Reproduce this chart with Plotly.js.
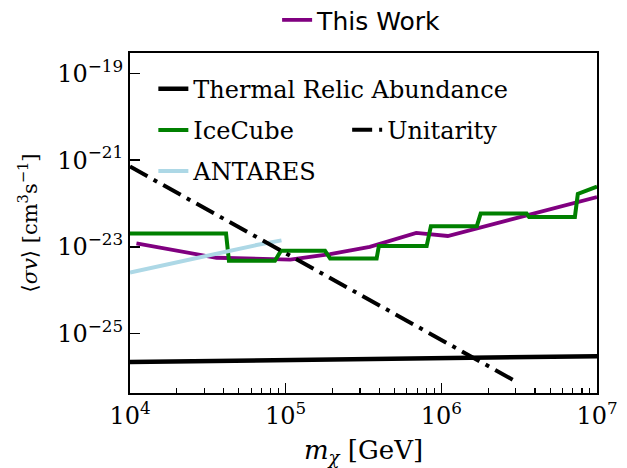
<!DOCTYPE html>
<html>
<head>
<meta charset="utf-8">
<script src="https://cdn.plot.ly/plotly-3.0.1.min.js"></script>
<style>html,body{margin:0;padding:0;background:#fff;}#chart{width:627px;height:468px;}</style>
</head>
<body>
<div id="chart"></div>
<script>
// ---- data ----
const thisWorkMass = [1.1e4, 3.6e4, 1.07e5, 1.93e5, 3.47e5, 6.9e5, 1.1e6, 1e7];
const thisWorkSigmaV = [1.2e-23, 5.6e-24, 5.1e-24, 6.8e-24, 1.0e-23, 2.1e-23, 1.78e-23, 1.4e-22];

const iceCubeMass = [1e4, 4.14e4, 4.32e4, 8.53e4, 9.33e4, 1.79e5, 1.93e5, 3.84e5, 3.97e5,
                     8.05e5, 8.57e5, 1.69e6, 1.79e6, 3.53e6, 3.66e6, 7.21e6, 7.53e6, 1e7];
const iceCubeSigmaV = [2.04e-23, 2.04e-23, 4.8e-24, 4.8e-24, 8.1e-24, 8.1e-24, 5.4e-24, 5.4e-24, 1.05e-23,
                       1.05e-23, 3.0e-23, 3.0e-23, 5.9e-23, 5.9e-23, 4.9e-23, 4.9e-23, 1.66e-22, 2.45e-22];

const antaresMass = [1e4, 2e4, 3.5e4, 5.35e4, 6.0e4, 6.5e4, 9.4e4];
const antaresSigmaV = [2.57e-24, 4.4e-24, 6.8e-24, 9.5e-24, 1.08e-23, 1.1e-23, 1.41e-23];

const thermalMass = [1e4, 1e5, 1e6, 1e7];
const thermalSigmaV = [2.2e-26, 2.4e-26, 2.7e-26, 3.0e-26];

const unitarityMass = [1e4, 2.9e6];
const unitaritySigmaV = [7.1e-22, 8.5e-27];

const xTickVals = [1e4, 1e5, 1e6, 1e7];
const xTickText = ['10<sup>4</sup>', '10<sup>5</sup>', '10<sup>6</sup>', '10<sup>7</sup>'];
const yTickVals = [1e-25, 1e-23, 1e-21, 1e-19];
const yTickText = ['10<sup>−25</sup>', '10<sup>−23</sup>', '10<sup>−21</sup>', '10<sup>−19</sup>'];

// ---- chart ----
const serif = 'DejaVu Serif, serif';
const minorVals = [];
for (let e = 4; e < 7; e++) for (let d = 2; d <= 9; d++) minorVals.push(d * Math.pow(10, e));

const traces = [
  {x: thisWorkMass, y: thisWorkSigmaV, name: 'This Work', mode: 'lines',
   line: {color: 'purple', width: 3.8}, legend: 'legend'},
  {x: thermalMass, y: thermalSigmaV, name: 'Thermal Relic Abundance', mode: 'lines',
   line: {color: 'black', width: 4.5}, legend: 'legend2', legendgroup: 'a'},
  {x: iceCubeMass, y: iceCubeSigmaV, name: 'IceCube', mode: 'lines',
   line: {color: 'green', width: 4}, legend: 'legend2', legendgroup: 'b'},
  {x: antaresMass, y: antaresSigmaV, name: 'ANTARES', mode: 'lines',
   line: {color: 'lightblue', width: 4}, legend: 'legend2', legendgroup: 'c'},
  {x: unitarityMass, y: unitaritySigmaV, name: 'Unitarity', mode: 'lines',
   line: {color: 'black', width: 4, dash: '20px,7px,4px,7px'}, legend: 'legend3'}
];

const layout = {
  width: 627, height: 468,
  margin: {l: 130, r: 30, t: 53, b: 75, autoexpand: false},
  paper_bgcolor: '#fff', plot_bgcolor: '#fff',
  font: {family: serif, color: '#000'},
  xaxis: {
    type: 'log', range: [4, 7],
    tickmode: 'array', tickvals: xTickVals, ticktext: xTickText,
    ticks: 'inside', ticklen: 10, tickwidth: 1.5, tickcolor: '#000',
    minor: {tickmode: 'array', tickvals: minorVals, ticks: 'inside', ticklen: 5, tickwidth: 1.2, tickcolor: '#000'},
    showgrid: false, zeroline: false,
    showline: true, linecolor: '#000', linewidth: 2, mirror: true,
    tickfont: {family: serif, size: 24, color: '#000'},
    title: {text: '<i>m</i><sub><i>χ</i></sub> [GeV]', font: {family: serif, size: 26, color: '#000'}, standoff: 12}
  },
  yaxis: {
    type: 'log', range: [-26.37, -18.53],
    tickmode: 'array', tickvals: yTickVals, ticktext: yTickText,
    ticks: 'inside', ticklen: 10, tickwidth: 1.5, tickcolor: '#000',
    showgrid: false, zeroline: false,
    showline: true, linecolor: '#000', linewidth: 2, mirror: true,
    tickfont: {family: serif, size: 24, color: '#000'},
    title: {text: '\u00A0\u00A0⟨<i>σv</i>⟩ [cm<sup>3</sup>s<sup>−1</sup>]', font: {family: serif, size: 21, color: '#000'}, standoff: 14}
  },
  legend: {x: 0.315, xref: 'paper', y: 0.957, yref: 'container', xanchor: 'left', yanchor: 'middle', orientation: 'h',
           bgcolor: 'rgba(0,0,0,0)', font: {family: 'DejaVu Sans, sans-serif', size: 25, color: '#000'}},
  legend2: {x: 0.05, y: 0.96, xanchor: 'left', yanchor: 'top', bgcolor: 'rgba(0,0,0,0)',
            tracegroupgap: 7, font: {family: serif, size: 24, color: '#000'}},
  legend3: {x: 0.465, y: 0.773, xanchor: 'left', yanchor: 'middle', bgcolor: 'rgba(0,0,0,0)',
            font: {family: serif, size: 24, color: '#000'}},
  showlegend: true
};

Plotly.newPlot('chart', traces, layout, {displayModeBar: false, staticPlot: true});
</script>
</body>
</html>
